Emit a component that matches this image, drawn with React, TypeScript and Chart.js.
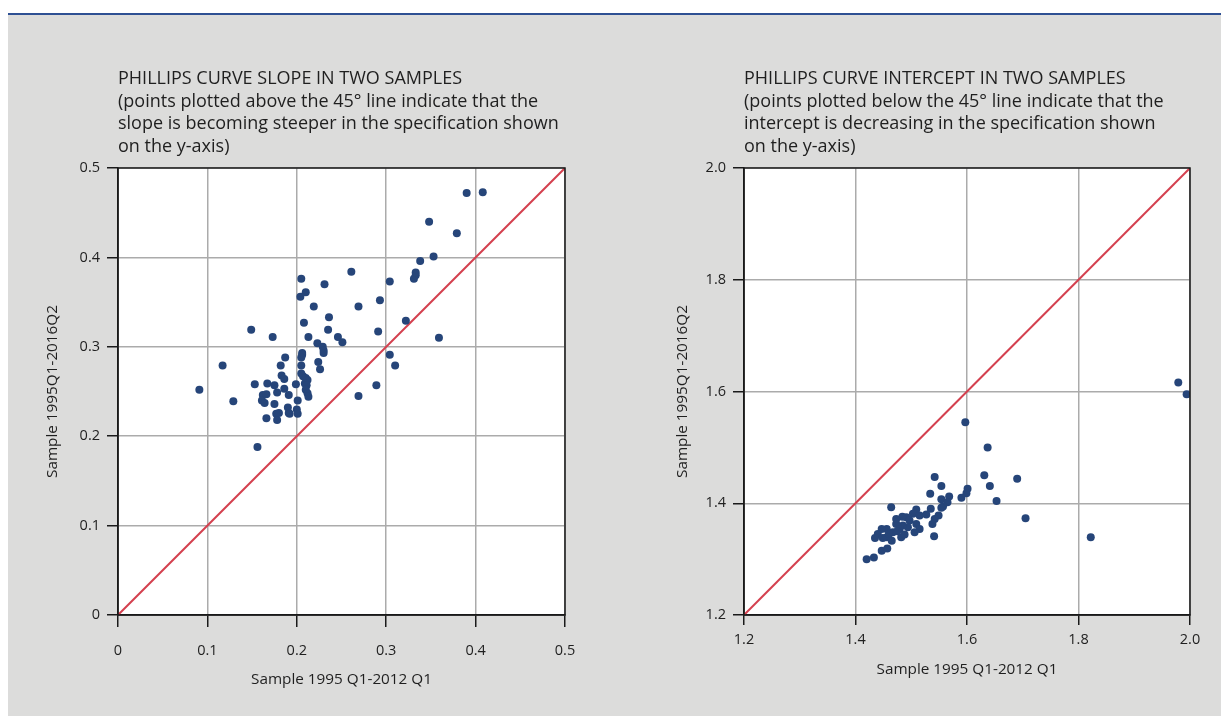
import React, { useEffect, useRef } from "react";
import { Chart, registerables } from "chart.js";

Chart.register(...registerables);

// ---------- data ----------
const slopeTitle = [
  "PHILLIPS CURVE SLOPE IN TWO SAMPLES",
  "(points plotted above the 45° line indicate that the",
  "slope is becoming steeper in the specification shown",
  "on the y-axis)",
];
const interceptTitle = [
  "PHILLIPS CURVE INTERCEPT IN TWO SAMPLES",
  "(points plotted below the 45° line indicate that the",
  "intercept is decreasing in the specification shown",
  "on the y-axis)",
];
const xAxisTitle = "Sample 1995 Q1-2012 Q1";
const yAxisTitle = "Sample 1995Q1-2016Q2";

const slopeTicks = [0, 0.1, 0.2, 0.3, 0.4, 0.5];
const slopeTickLabels = ["0", "0.1", "0.2", "0.3", "0.4", "0.5"];
const interceptTicks = [1.2, 1.4, 1.6, 1.8, 2.0];
const interceptTickLabels = ["1.2", "1.4", "1.6", "1.8", "2.0"];

const slopeX = [
  0.091, 0.117, 0.129, 0.156, 0.149, 0.173, 0.153, 0.167, 0.175, 0.162, 0.161, 0.164, 0.166, 0.178, 0.175,
  0.166, 0.177, 0.178, 0.18, 0.186, 0.191, 0.187, 0.182, 0.183, 0.186, 0.19, 0.191, 0.192, 0.199, 0.201,
  0.2, 0.201, 0.205, 0.21, 0.204, 0.219, 0.231, 0.208, 0.236, 0.213, 0.235, 0.206, 0.206, 0.205, 0.205,
  0.205, 0.207, 0.21, 0.212, 0.209, 0.211, 0.21, 0.212, 0.213, 0.223, 0.229, 0.23, 0.23, 0.224, 0.226,
  0.246, 0.251, 0.261, 0.269, 0.269, 0.291, 0.293, 0.304, 0.289, 0.304, 0.31, 0.322, 0.331, 0.333, 0.333,
  0.338, 0.353, 0.348, 0.379, 0.39, 0.408, 0.359,
];
const slopeY = [
  0.252, 0.279, 0.239, 0.188, 0.319, 0.311, 0.258, 0.259, 0.257, 0.246, 0.24, 0.237, 0.247, 0.249, 0.236,
  0.22, 0.225, 0.218, 0.226, 0.253, 0.246, 0.288, 0.279, 0.268, 0.264, 0.232, 0.226, 0.225, 0.258, 0.24,
  0.23, 0.225, 0.376, 0.361, 0.356, 0.345, 0.37, 0.327, 0.333, 0.311, 0.319, 0.293, 0.291, 0.288, 0.279,
  0.27, 0.267, 0.265, 0.263, 0.259, 0.257, 0.252, 0.248, 0.244, 0.304, 0.3, 0.296, 0.293, 0.283, 0.275,
  0.311, 0.305, 0.384, 0.345, 0.245, 0.317, 0.352, 0.373, 0.257, 0.291, 0.279, 0.329, 0.376, 0.38, 0.383,
  0.396, 0.401, 0.44, 0.427, 0.472, 0.473, 0.31,
];

const interceptX = [
  1.597, 1.637, 1.631, 1.641, 1.69, 1.653, 1.705, 1.822, 1.979, 1.994, 1.542, 1.554, 1.534, 1.568, 1.554,
  1.601, 1.599, 1.59, 1.565, 1.557, 1.554, 1.535, 1.549, 1.542, 1.538, 1.541, 1.464, 1.509, 1.503, 1.515,
  1.527, 1.491, 1.484, 1.497, 1.509, 1.515, 1.506, 1.494, 1.485, 1.473, 1.479, 1.467, 1.456, 1.447, 1.44,
  1.435, 1.456, 1.465, 1.482, 1.488, 1.449, 1.447, 1.457, 1.42, 1.433, 1.473, 1.46, 1.475,
];
const interceptY = [
  1.545, 1.5, 1.45, 1.431, 1.444, 1.404, 1.373, 1.339, 1.616, 1.595, 1.447, 1.431, 1.417, 1.412, 1.407,
  1.426, 1.418, 1.41, 1.402, 1.394, 1.392, 1.39, 1.378, 1.372, 1.363, 1.341, 1.393, 1.389, 1.381, 1.378,
  1.38, 1.375, 1.376, 1.369, 1.363, 1.354, 1.348, 1.357, 1.36, 1.363, 1.354, 1.348, 1.354, 1.354, 1.345,
  1.338, 1.339, 1.333, 1.339, 1.344, 1.338, 1.315, 1.319, 1.3, 1.303, 1.372, 1.345, 1.35,
];

// ---------- styles ----------
const FONT = "'Open Sans', 'Noto Sans', sans-serif";
const TEXT = "#1f1f1f";
const DOT = "#264579";
const RED = "#d4404f";
const GRID = "#ababab";
const BG = "#dcdcdb";
const LINE_H = 22.7;
const TITLE_SIZE = 18;

const framePlugin = {
  id: "frame",
  beforeDraw(chart: any) {
    const { ctx, chartArea: a } = chart;
    ctx.save();
    ctx.fillStyle = "#ffffff";
    ctx.fillRect(a.left, a.top, a.right - a.left, a.bottom - a.top);
    ctx.restore();
  },
  afterDraw(chart: any) {
    const { ctx, chartArea: a } = chart;
    ctx.save();
    ctx.strokeStyle = "#1a1a1a";
    ctx.lineWidth = 1.5;
    ctx.strokeRect(a.left, a.top, a.right - a.left, a.bottom - a.top);
    ctx.restore();
  },
};

type Spec = {
  title: string[];
  xs: number[];
  ys: number[];
  ticks: number[];
  tickLabels: string[];
  yScaleWidth: number;
  padRight: number;
  yTitlePad: number;
  xTickLen: number;
  xTickPad: number;
  xTitlePad: number;
};

function makeConfig(s: Spec): any {
  const min = s.ticks[0];
  const max = s.ticks[s.ticks.length - 1];
  const points = s.xs.map((x, i) => ({ x, y: s.ys[i] }));
  const diag = [
    { x: min, y: min },
    { x: max, y: max },
  ];
  const tickFont = { family: FONT, size: 14.5 };
  const axisTitleFont = { family: FONT, size: 15.3 };
  const setTicks = (scale: any) => {
    scale.ticks = s.ticks.map((v) => ({ value: v }));
  };
  const fmt = (_v: any, i: number) => s.tickLabels[i];
  return {
    type: "scatter",
    data: {
      datasets: [
        {
          data: points,
          backgroundColor: DOT,
          borderColor: DOT,
          pointRadius: 4,
          pointBorderWidth: 0,
        },
        {
          type: "line",
          data: diag,
          borderColor: RED,
          borderWidth: 2,
          pointRadius: 0,
          fill: false,
        },
      ],
    },
    options: {
      animation: false,
      responsive: false,
      events: [],
      layout: { padding: { top: 0, left: 0, right: s.padRight, bottom: 0 } },
      plugins: {
        legend: { display: false },
        tooltip: { enabled: false },
        title: {
          display: true,
          text: s.title,
          align: "start",
          fullSize: false,
          color: TEXT,
          font: { family: FONT, size: TITLE_SIZE, weight: "normal", lineHeight: LINE_H / TITLE_SIZE },
          padding: { top: 67.5, bottom: 9.7 },
        },
      },
      scales: {
        x: {
          type: "linear",
          min,
          max,
          afterBuildTicks: setTicks,
          afterFit: (sc: any) => {
            sc.height = 101;
          },
          ticks: { callback: fmt, color: TEXT, font: tickFont, padding: s.xTickPad, maxRotation: 0 },
          grid: {
            color: GRID,
            lineWidth: 1.5,
            drawTicks: true,
            tickLength: s.xTickLen,
            tickColor: "#1a1a1a",
            tickWidth: 1.5,
          },
          border: { display: true, color: "#1a1a1a", width: 1.5 },
          title: {
            display: true,
            text: xAxisTitle,
            color: TEXT,
            font: axisTitleFont,
            padding: { top: 0, bottom: s.xTitlePad },
          },
        },
        y: {
          type: "linear",
          min,
          max,
          afterBuildTicks: setTicks,
          afterFit: (sc: any) => {
            sc.width = s.yScaleWidth;
          },
          ticks: { callback: fmt, color: TEXT, font: tickFont, padding: 7 },
          grid: {
            color: GRID,
            lineWidth: 1.5,
            drawTicks: true,
            tickLength: 11,
            tickColor: "#1a1a1a",
            tickWidth: 1.5,
          },
          border: { display: true, color: "#1a1a1a", width: 1.5 },
          title: {
            display: true,
            text: yAxisTitle,
            color: TEXT,
            font: axisTitleFont,
            padding: { top: s.yTitlePad, bottom: 0 },
          },
        },
      },
    },
    plugins: [framePlugin],
  };
}

function ChartCanvas(props: { spec: Spec; left: number; width: number }) {
  const ref = useRef<HTMLCanvasElement>(null);
  useEffect(() => {
    if (!ref.current) return;
    const chart = new Chart(ref.current, makeConfig(props.spec));
    return () => chart.destroy();
  }, []);
  return (
    <canvas
      ref={ref}
      width={props.width}
      height={716}
      style={{ position: "absolute", left: props.left, top: 0, width: props.width, height: 716 }}
    />
  );
}

const leftSpec: Spec = {
  title: slopeTitle,
  xs: slopeX,
  ys: slopeY,
  ticks: slopeTicks,
  tickLabels: slopeTickLabels,
  yScaleWidth: 118,
  padRight: 45,
  yTitlePad: 43.8,
  xTickLen: 12,
  xTickPad: 15.3,
  xTitlePad: 26.8,
};

const rightSpec: Spec = {
  title: interceptTitle,
  xs: interceptX,
  ys: interceptY,
  ticks: interceptTicks,
  tickLabels: interceptTickLabels,
  yScaleWidth: 134,
  padRight: 31,
  yTitlePad: 63.8,
  xTickLen: 10,
  xTickPad: 6,
  xTitlePad: 36.8,
};

export default function App() {
  useEffect(() => {
    document.body.style.overflow = "hidden";
  }, []);
  return (
    <div>
      <div
        style={{
          position: "absolute",
          left: 8,
          top: 13,
          width: 1213,
          height: 703,
          background: BG,
          borderTop: "2px solid #2e5093",
          boxSizing: "border-box",
        }}
      />
      <ChartCanvas spec={leftSpec} left={0} width={610} />
      <ChartCanvas spec={rightSpec} left={610} width={611} />
    </div>
  );
}
